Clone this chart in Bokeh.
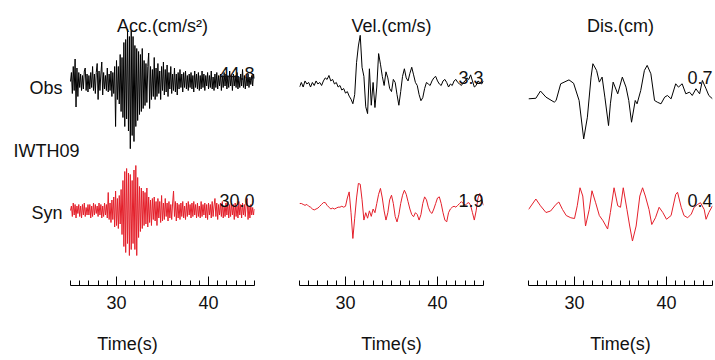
import numpy as np
from bokeh.plotting import figure
from bokeh.layouts import row
from bokeh.models import Range1d, FixedTicker, Label, LinearAxis
from bokeh.embed import file_html
from bokeh.resources import INLINE

# ---------------- data ----------------
station = "IWTH09"
panel_titles = ["Acc.(cm/s\u00b2)", "Vel.(cm/s)", "Dis.(cm)"]
obs_peaks = ["44.8", "3.3", "0.7"]
syn_peaks = ["30.0", "1.9", "0.4"]
major_ticks = [30, 40]
minor_ticks = list(range(25, 46))
t_start = 25.0
t_end = 45.0
acc_dt = 0.1
vel_dt = 0.2

obs_acc = [
    0, 6, -8, 10, -6, 15, -17, 9, -10, 6,
    -4, 5, -6, 4, -5, 7, 9, -6, 5, -7,
    4, -5, 6, -4, 10, -6, 5, -8, 6, 12,
    -12, 7, -6, 5, 13, -9, 6, -5, 4, -6,
    9, -7, 5, -6, 7, -10, 6, -8, 10, -30,
    14, -12, 10, -15, 18, -20, 16, -24, 26, -30,
    28, -25, 35, -33, 30, -44.8, 34, -36, 30, -40,
    24, -30, 22, -26, 20, -22, 18, -20, 22, -18,
    14, -16, 12, -14, 10, 19, -18, 10, -12, 8,
    -10, 16, -12, 9, -10, 12, -8, 7, -12, 10,
    -6, 13, -9, 8, -7, 11, -10, 6, -5, 10,
    -8, 5, -6, 9, -7, 5, -9, 6, -5, 8,
    -4, 5, -7, 6, -4, 7, -5, 4, -6, 5,
    -4, 6, -5, 4, -7, 7, -4, 5, -5, 6,
    -6, 4, -5, 7, -4, 5, -6, 4, -3, 6,
    -5, 4, -4, 7, -5, 3, -6, 5, -4, 6,
    -5, 4, -3, 5, -6, 4, -4, 6, -3, 5,
    -5, 4, -4, 7, -3, 4, -6, 5, -3, 4,
    -4, 6, -5, 3, -4, 5, -3, 8, -4, 4,
    -5, 3, -3, 5, -4, 3, -2, 4, -3, 5,
    2,
]
syn_acc = [
    0, 3, -4, 5, -3, 4, -5, 3, -2, 4,
    -4, 3, -5, 4, -3, 5, -4, 2, -3, 4,
    -3, 4, -5, 3, -4, 5, -3, 4, -2, 3,
    -4, 5, -3, 4, -5, 3, -4, 5, -3, 4,
    -5, 12, -6, 5, -8, 7, -6, 9, -11, 13,
    -10, 8, -12, 10, -9, 14, -16, 20, -24, 26,
    -28, 28, -22, 25, -30, 24, -26, 20, -22, 27,
    -26, 30, -30, 22, -18, 16, -14, 15, -12, 13,
    -10, 12, -9, 15, -11, 9, -8, 7, -10, 8,
    -6, 9, -7, 6, -10, 8, -5, 6, -8, 10,
    -7, 5, -6, 8, -4, 5, -7, 6, -5, 4,
    -6, 5, 13, -4, 6, -7, 5, -5, 4, -6,
    5, -4, 6, -5, 3, -6, 5, -4, 6, -3,
    4, -5, 5, -4, 6, -3, 4, -5, 5, -4,
    3, -5, 6, -4, 4, -3, 5, -5, 4, -6,
    5, -3, 4, -5, 6, -4, 3, 8, -4, 5,
    -6, 4, -3, 5, -4, 6, -5, 3, -4, 5,
    -3, 6, -5, 4, -4, 5, -3, 4, -6, 5,
    -4, 3, -5, 6, -3, 4, -5, 5, -3, 4,
    -4, 5, 8, -6, 3, -5, 4, -3, 2, -3,
    1,
]
obs_vel = [
    -0.1, 0.2, -0.1, 0.3, 0.1,
    0.2, -0.1, 0.2, 0.0, 0.3,
    0.1, 0.2, 0.0, 0.3, 0.5,
    0.4, 0.66, 0.3, 0.4, 0.1,
    0.2, -0.1, 0.0, -0.3, -0.2,
    -0.5, -0.4, -0.7, -0.9, -1.2,
    -0.6, 1.5, 2.6, 3.3, 1.2,
    0.6, -1.4, -1.85, 1.1, -1.3,
    0.2, -1.45, -0.1, 2.1, 1.4,
    0.6, 0.0, 0.9, 0.5, -0.2,
    -0.4, 0.4, 0.2, -0.6, -1.3,
    -0.4, 0.6, 1.1, 0.5, 0.3,
    0.8, 1.2, 0.7, 0.2, 0.0,
    -0.6, -1.0, -0.8, -0.2, 0.2,
    0.1, 0.0, 0.3, 0.5, 0.6,
    0.3, 0.1, 0.0, 0.3, 0.4,
    0.2, -0.1, 0.1, 0.0, 0.3,
    0.4, 0.2, 0.1, 0.0, 0.2,
    0.3, 0.5, 0.4, 0.7, 0.3,
    -0.1, 0.0, 0.3, 0.2, 0.1,
    0.3,
]
syn_vel = [
    0.0, 0.0, -0.05, -0.1, -0.05,
    -0.15, -0.2, -0.3, -0.35, -0.3,
    -0.25, -0.15, -0.05, 0.05, 0.05,
    -0.1, -0.2, -0.3, -0.25, -0.3,
    -0.25, -0.2, -0.2, -0.15, -0.2,
    -0.15, 0.3, 0.63, -0.5, -1.9,
    -0.8, 0.3, 1.09, 1.05, 0.2,
    -0.9, -0.5, -0.8, -0.4, -0.7,
    -0.3, -0.5, 0.0, 0.5, 0.82,
    0.3, -0.4, -0.9, -0.5, 0.2,
    0.45, 0.0, -0.7, -1.0, -0.6,
    0.0, 0.45, 0.72, 0.5, 0.1,
    -0.3, -0.6, -0.72, -0.5, -0.6,
    -0.9, -0.6, 0.0, 0.36, 0.2,
    -0.2, -0.45, -0.54, -0.3, 0.0,
    0.3, 0.36, 0.0, -0.5, -0.9,
    -1.0, -0.5, -0.3, -0.2, -0.15,
    -0.2, -0.1, 0.0, 0.1, 0.0,
    -0.1, 0.0, 0.05, -0.1, -0.5,
    -0.9, -0.4, 0.3, 0.55, 0.2,
    -0.1,
]
obs_dis_t = [
    25.0, 25.8, 26.3, 26.9, 27.8, 28.0, 28.5, 29.4, 29.9, 30.5,
    31.0, 31.4, 31.8, 32.0, 32.4, 32.7, 33.0, 33.3, 33.7, 33.9,
    34.2, 34.7, 35.2, 35.6, 35.9, 36.2, 36.6, 36.8, 37.2, 37.6,
    37.9, 38.3, 38.7, 39.0, 39.4, 39.8, 40.1, 40.5, 41.0, 41.3,
    41.7, 42.1, 42.5, 42.8, 43.2, 43.6, 43.9, 44.3, 44.6, 45.0,
]
obs_dis = [
    0.03, 0.04, 0.17, 0.06, -0.03, 0.0, 0.30, 0.37, 0.31, 0.0,
    -0.69, -0.30, 0.42, 0.66, 0.54, 0.33, 0.42, 0.06, -0.45, -0.06,
    0.33, 0.12, 0.42, 0.24, 0.0, -0.39, 0.0, -0.06, 0.18, 0.54,
    0.63, 0.48, 0.0, -0.03, -0.06, 0.06, 0.09, 0.03, 0.30, 0.24,
    0.30, 0.12, 0.15, 0.09, 0.21, 0.12, 0.36, 0.21, 0.09, 0.03,
]
syn_dis_t = [
    25.0, 25.8, 26.3, 26.9, 27.4, 28.0, 28.3, 28.7, 29.1, 29.6,
    30.0, 30.3, 30.6, 30.9, 31.2, 31.6, 31.9, 32.3, 32.7, 33.1,
    33.6, 33.9, 34.3, 34.7, 35.0, 35.3, 35.7, 36.0, 36.3, 36.7,
    37.1, 37.4, 37.7, 38.1, 38.4, 38.8, 39.2, 39.6, 40.0, 40.5,
    41.0, 41.2, 41.6, 41.9, 42.3, 42.7, 43.0, 43.4, 43.7, 44.1,
    44.3, 44.6, 45.0,
]
syn_dis = [
    0.04, 0.18, 0.09, 0.0, 0.02, 0.11, 0.14, 0.04, -0.04, -0.07,
    -0.08, 0.09, 0.33, 0.22, -0.18, 0.04, 0.29, 0.13, -0.04, -0.11,
    -0.22, 0.0, 0.33, 0.09, 0.07, 0.33, 0.04, -0.18, -0.38, -0.18,
    0.22, 0.33, 0.22, 0.04, -0.16, -0.07, 0.07, 0.0, -0.09, -0.04,
    0.24, 0.27, 0.07, -0.04, -0.07, -0.02, 0.07, 0.11, 0.13, 0.04,
    -0.09, 0.0, 0.09,
]

acc_t = np.round(t_start + acc_dt * np.arange(len(obs_acc)), 3)
vel_t = np.round(t_start + vel_dt * np.arange(len(obs_vel)), 3)

# ---------------- style / layout ----------------
FONT = "Liberation Sans"
RED = "#e4202b"
TXT = "#111111"
FRAME_W = 184
FIG_H = 360
BOTTOM = 75
LABEL_W = 70  # room for the row names at the left of panel 1


def make_panel(idx, t_obs, y_obs, t_syn, y_syn, obs_rng, syn_rng,
               obs_off, syn_off, left, right, names=False):
    x0 = t_start
    extra = 0
    if names:
        # widen the frame leftwards so the row names are drawn inside it
        extra = left
        x0 = t_start - (t_end - t_start) * left / FRAME_W
        left = 0
    p = figure(width=left + extra + FRAME_W + right, height=FIG_H,
               x_range=Range1d(x0, t_end), y_range=Range1d(0, 1),
               output_backend="svg", toolbar_location=None,
               min_border_left=left, min_border_right=right,
               min_border_top=0, min_border_bottom=BOTTOM,
               x_axis_location=None, y_axis_location=None)
    p.outline_line_color = None
    p.grid.visible = False
    p.extra_y_ranges = {"obs": Range1d(*obs_rng), "syn": Range1d(*syn_rng)}
    p.line(t_obs, y_obs, y_range_name="obs", line_color="black", line_width=1.0)
    p.line(t_syn, y_syn, y_range_name="syn", line_color=RED, line_width=1.0)

    ax = LinearAxis(ticker=FixedTicker(ticks=major_ticks, minor_ticks=minor_ticks),
                    axis_label="Time(s)", bounds=(t_start, t_end))
    ax.major_tick_in = 9
    ax.major_tick_out = 0
    ax.minor_tick_in = 5
    ax.minor_tick_out = 0
    ax.axis_line_color = "black"
    ax.major_tick_line_color = "black"
    ax.minor_tick_line_color = "black"
    ax.major_label_text_font = FONT
    ax.major_label_text_font_size = "18px"
    ax.major_label_text_color = TXT
    ax.major_label_text_line_height = 1.0
    ax.major_label_standoff = 10
    ax.axis_label_text_font = FONT
    ax.axis_label_text_font_size = "18px"
    ax.axis_label_text_font_style = "normal"
    ax.axis_label_text_color = TXT
    ax.axis_label_text_line_height = 1.0
    ax.axis_label_standoff = 22
    p.add_layout(ax, "below")

    common = dict(text_font=FONT, text_font_size="18px", text_color=TXT)
    p.add_layout(Label(x=(t_start + t_end) / 2, y=obs_rng[1], y_range_name="obs",
                       y_offset=-25, text=panel_titles[idx], text_align="center",
                       text_baseline="middle", **common))
    p.add_layout(Label(x=t_end, y=0, y_range_name="obs", y_offset=obs_off,
                       text=obs_peaks[idx], text_align="right",
                       text_baseline="alphabetic", **common))
    p.add_layout(Label(x=t_end, y=0, y_range_name="syn", y_offset=syn_off,
                       text=syn_peaks[idx], text_align="right",
                       text_baseline="alphabetic", **common))
    if names:
        p.add_layout(Label(x=t_start, y=0, y_range_name="obs", x_offset=-8, y_offset=-6,
                           text="Obs", text_align="right", text_baseline="middle", **common))
        p.add_layout(Label(x=t_start, y=0, y_range_name="syn", x_offset=-8, y_offset=-2,
                           text="Syn", text_align="right", text_baseline="middle", **common))
        p.add_layout(Label(x=t_start, y=0, y_range_name="obs", x_offset=-57, y_offset=-69,
                           text=station, text_align="left", text_baseline="middle", **common))
    return p


p1 = make_panel(0, acc_t, obs_acc, acc_t, syn_acc,
                (-136.0, 54.0), (-50.0, 140.0), 8, 10, LABEL_W, 22, names=True)
p2 = make_panel(1, vel_t, obs_vel, vel_t, syn_vel,
                (-13.158, 5.592), (-4.457, 11.033), 8, 3, 23, 22)
p3 = make_panel(2, obs_dis_t, obs_dis, syn_dis_t, syn_dis,
                (-3.321, 1.795), (-0.973, 2.827), 23, 12, 23, 2)

layout = row(p1, p2, p3, spacing=0)
open("out.html", "w").write(file_html(layout, INLINE))
